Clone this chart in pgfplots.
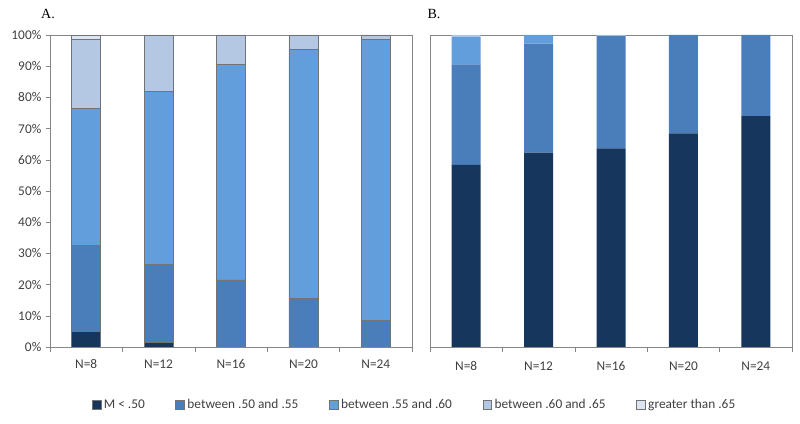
\documentclass[border=0pt]{standalone}
\usepackage{pgfplots}
\pgfplotsset{compat=1.18}
\usepackage{fontspec}
\setmainfont{Carlito}
\newfontfamily\titlefont{Liberation Serif}
\definecolor{cA}{HTML}{17365D}
\definecolor{cB}{HTML}{4A7EBB}
\definecolor{cC}{HTML}{629DDC}
\definecolor{cD}{HTML}{B4C8E3}
\definecolor{cE}{HTML}{DCE6F2}
\definecolor{frame}{HTML}{868686}
\pgfplotsset{
  panel/.style={
    scale only axis, width=271.5pt, height=234pt,
    ybar stacked, bar width=21.75pt,
    xmin=-0.5, xmax=4.5, ymin=0, ymax=100,
    xtick={0,1,2,3,4},
    xticklabels={N=8,N=12,N=16,N=20,N=24},
    major x tick style={draw=none},
    minor xtick={-0.5,0.5,1.5,2.5,3.5,4.5},
    minor tick length=4pt,
    tick align=outside,
    axis line style={frame},
    every tick/.style={frame},
    ticklabel style={font=\fontsize{10}{11}\selectfont, text=black!75},
    xticklabel style={yshift=-3pt},
    xtick pos=bottom, ytick pos=left,
    /pgf/number format/assume math mode=true,
    area legend,
  },
}
\begin{document}
\begin{tikzpicture}
\useasboundingbox (-37.5pt,-57.75pt) rectangle (562.5pt,260.25pt);
\begin{axis}[panel,
  ytick={0,10,...,100},
  yticklabel={\pgfmathprintnumber{\tick}\%},
  major tick length=3pt,
  every axis plot/.append style={draw=black!55, line width=0.5pt},
  legend columns=5,
  legend style={draw=none, at={(1.008,-0.186)}, anchor=center,
    font=\fontsize{10}{11}\selectfont, text=black!75,
    /tikz/every even column/.append style={column sep=21pt}},
  legend image code/.code={\fill[#1] (0pt,-3.5pt) rectangle (6.5pt,3.5pt);},
]
\addplot[fill=cA] coordinates {(0,5) (1,1.5) (2,0) (3,0) (4,0)};
\addplot[fill=cB] coordinates {(0,27.5) (1,25) (2,21.5) (3,15.5) (4,8.5)};
\addplot[fill=cC] coordinates {(0,44) (1,55.5) (2,69) (3,80) (4,90)};
\addplot[fill=cD] coordinates {(0,22) (1,18) (2,9.5) (3,4.5) (4,1.5)};
\addplot[fill=cE] coordinates {(0,1.5) (1,0) (2,0) (3,0) (4,0)};
\legend{M < .50, between .50 and .55, between .55 and .60, between .60 and .65, greater than .65}
\end{axis}
\node[font=\titlefont\fontsize{10.5}{12}\selectfont] at (-1.5pt,250pt) {A.};
\begin{axis}[panel, at={(285pt,0pt)},
  ytick=\empty,
  every axis plot/.append style={draw=none},
]
\addplot[fill=cA] coordinates {(0,58.4) (1,62.3) (2,63.7) (3,68.5) (4,74)};
\addplot[fill=cB] coordinates {(0,32.2) (1,34.9) (2,36.0) (3,31.5) (4,26)};
\addplot[fill=cC] coordinates {(0,8.9) (1,2.8) (2,0) (3,0) (4,0)};
\addplot[fill=cD] coordinates {(0,0.5) (1,0) (2,0.3) (3,0) (4,0)};
\end{axis}
\node[font=\titlefont\fontsize{10.5}{12}\selectfont] at (288pt,250pt) {B.};
\end{tikzpicture}
\end{document}
